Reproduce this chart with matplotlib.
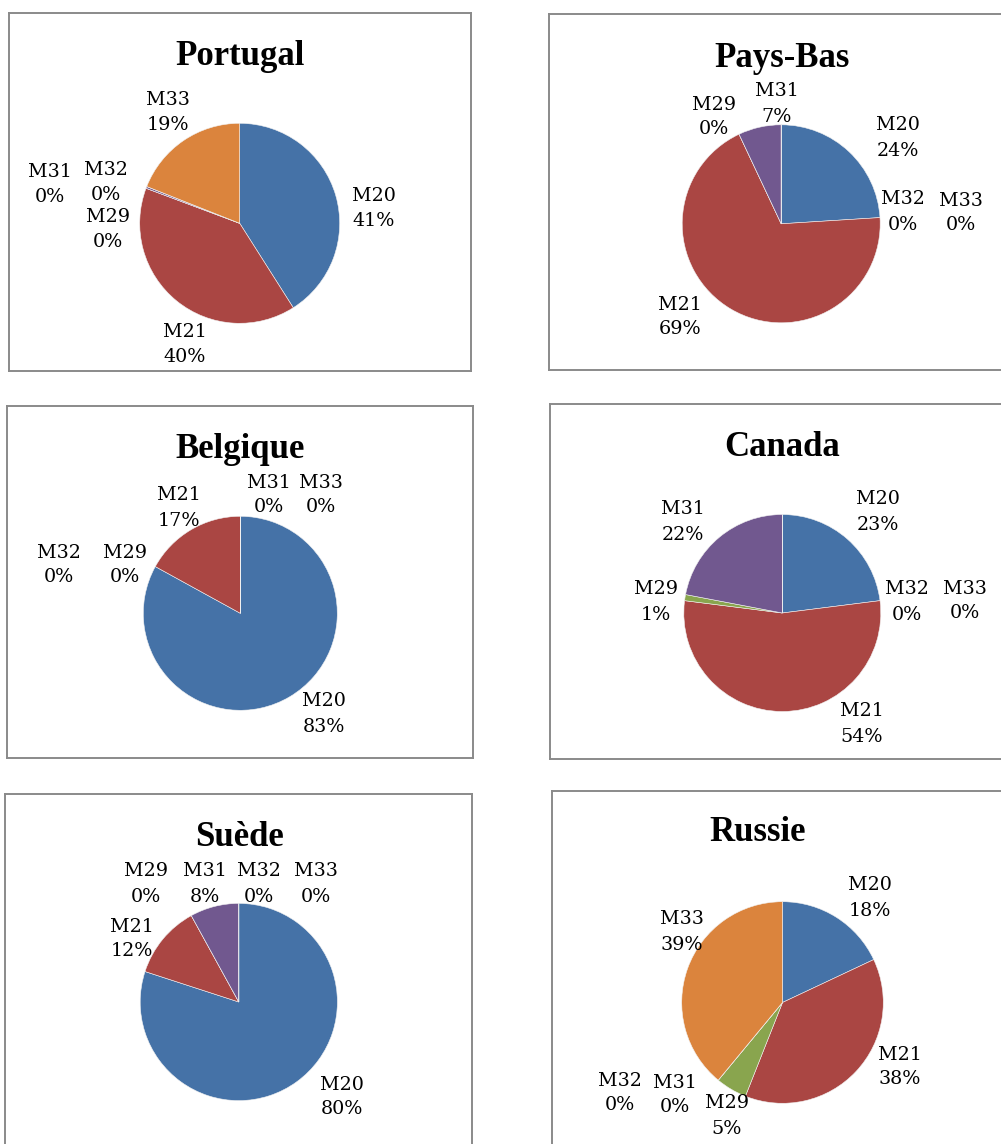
import matplotlib.pyplot as plt
from matplotlib.patches import Rectangle

W, H = 1001, 1144

# Parts des catégories par pays (en %)
categories = ['M20', 'M21', 'M29', 'M31', 'M32', 'M33']
portugal = [41.0, 39.7, 0.0, 0.3, 0.0, 19.0]
pays_bas = [24, 69, 0, 7, 0, 0]
belgique = [83, 17, 0, 0, 0, 0]
canada = [23, 54, 1, 22, 0, 0]
suede = [80, 12, 0, 8, 0, 0]
russie = [18, 38, 5, 0, 0, 39]

couleurs = ['#4572A7', '#AA4643', '#89A54E', '#71588F', '#4198AF', '#DB843D']

# Mise en page (pixels, origine en haut à gauche) :
# cadre, centre et rayon du camembert, titre, position des étiquettes
panneaux = [
    dict(titre='Portugal', valeurs=portugal,
         cadre=(9, 13, 471, 371), centre=(239.7, 223.3), rayon=100,
         pos_titre=(240, 65),
         etiquettes={'M20': (374, 206), 'M21': (185, 342), 'M29': (108, 227),
                     'M31': (50, 182), 'M32': (106, 180), 'M33': (168, 110)}),
    dict(titre='Pays-Bas', valeurs=pays_bas,
         cadre=(549, 14, 1012, 370), centre=(781.2, 223.8), rayon=99,
         pos_titre=(781.7, 66.7),
         etiquettes={'M20': (898, 136), 'M21': (680, 315), 'M29': (714, 115),
                     'M31': (777, 102), 'M32': (903, 210), 'M33': (961, 211)}),
    dict(titre='Belgique', valeurs=belgique,
         cadre=(7, 406, 473, 758), centre=(240.3, 613.3), rayon=97,
         pos_titre=(240.3, 458.3),
         etiquettes={'M20': (324, 712), 'M21': (179, 506), 'M29': (125, 563),
                     'M31': (269, 493), 'M32': (59, 563), 'M33': (321, 493)}),
    dict(titre='Canada', valeurs=canada,
         cadre=(550, 404, 1015, 759), centre=(782.3, 613), rayon=98.5,
         pos_titre=(782.3, 456),
         etiquettes={'M20': (878, 510), 'M21': (862, 722), 'M29': (656, 600),
                     'M31': (683, 520), 'M32': (907, 600), 'M33': (965, 599)}),
    dict(titre='Suède', valeurs=suede,
         cadre=(5, 794, 472, 1160), centre=(238.8, 1002), rayon=98.6,
         pos_titre=(239, 846),
         etiquettes={'M20': (342, 1095), 'M21': (132, 937), 'M29': (146, 882),
                     'M31': (205, 882), 'M32': (259, 882), 'M33': (316, 882)}),
    dict(titre='Russie', valeurs=russie,
         cadre=(552, 791, 1015, 1160), centre=(782.5, 1002.5), rayon=100.8,
         pos_titre=(757.5, 841),
         etiquettes={'M20': (870, 896), 'M21': (900, 1065), 'M29': (727, 1114),
                     'M31': (675, 1093), 'M32': (620, 1091), 'M33': (682, 930)}),
]

fig = plt.figure(figsize=(W / 100, H / 100), dpi=100)
fig.patch.set_facecolor('white')

for p in panneaux:
    x0, y0, x1, y1 = p['cadre']
    ax = fig.add_axes([x0 / W, 1 - y1 / H, (x1 - x0) / W, (y1 - y0) / H])
    cx, cy = p['centre']
    ax.pie(p['valeurs'], colors=couleurs, startangle=90, counterclock=False,
           center=(cx, H - cy), radius=p['rayon'], frame=True,
           wedgeprops=dict(edgecolor='#f2f2f2', linewidth=0.4))
    ax.set_xlim(x0, x1)
    ax.set_ylim(H - y1, H - y0)
    ax.set_xticks([])
    ax.set_yticks([])
    for s in ax.spines.values():
        s.set_color('#8a8a8a')
        s.set_linewidth(1.4)

    tx, ty = p['pos_titre']
    ax.text(tx, H - ty, p['titre'], ha='center', va='baseline',
            fontsize=25, fontweight='bold', family='Liberation Serif')

    # étiquettes : nom de catégorie + pourcentage arrondi
    for nom, v in zip(categories, p['valeurs']):
        lx, ly = p['etiquettes'][nom]
        ax.text(lx, H - (ly - 5.5), nom, ha='center', va='baseline',
                fontsize=13.8, family='DejaVu Serif')
        ax.text(lx, H - (ly + 19.5), f'{v:.0f}%', ha='center', va='baseline',
                fontsize=13.8, family='DejaVu Serif')

fig.savefig('out.png', dpi=100)
